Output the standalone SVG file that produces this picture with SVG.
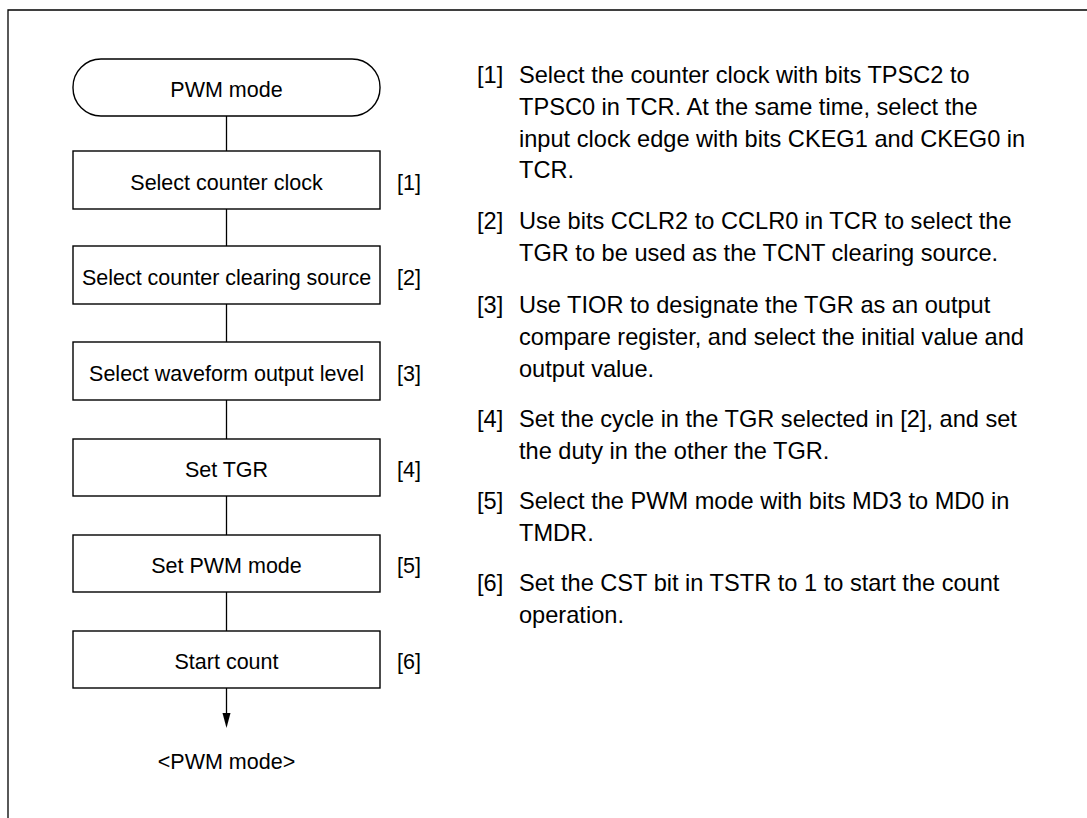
<svg xmlns="http://www.w3.org/2000/svg" width="1087" height="818" viewBox="0 0 1087 818">
<style>
.f{font-family:"Liberation Sans",Arial,sans-serif;fill:#000}
.b{font-size:21.5px;text-anchor:middle}
.l{font-size:21.5px}
.t{font-size:23.6px}
.s{fill:#fff;stroke:#000;stroke-width:1.4}
.c{stroke:#000;stroke-width:1.3;fill:none}
</style>
<rect width="1087" height="818" fill="#fff"/>
<path d="M8,818 V10 H1087" class="c"/>
<g id="connectors">
<line x1="226.5" y1="116" x2="226.5" y2="151" class="c"/>
<line x1="226.5" y1="209" x2="226.5" y2="246" class="c"/>
<line x1="226.5" y1="304" x2="226.5" y2="342" class="c"/>
<line x1="226.5" y1="400" x2="226.5" y2="439" class="c"/>
<line x1="226.5" y1="496" x2="226.5" y2="535" class="c"/>
<line x1="226.5" y1="592" x2="226.5" y2="631" class="c"/>
<line x1="226.5" y1="688" x2="226.5" y2="714" class="c"/>
<path d="M222.5,713 L230.5,713 L226.5,728 Z" fill="#000"/>
</g>
<g id="start"><rect x="73" y="59" width="307" height="57" rx="28" class="s"/><text x="226.5" y="97" class="f b">PWM mode</text></g>
<g id="n1"><rect x="73" y="151" width="307" height="58" class="s"/><text x="226.5" y="190" class="f b">Select counter clock</text><text x="397" y="190" class="f l">[1]</text></g>
<g id="n2"><rect x="73" y="246" width="307" height="58" class="s"/><text x="226.5" y="285" class="f b">Select counter clearing source</text><text x="397" y="285" class="f l">[2]</text></g>
<g id="n3"><rect x="73" y="342" width="307" height="58" class="s"/><text x="226.5" y="381" class="f b">Select waveform output level</text><text x="397" y="381" class="f l">[3]</text></g>
<g id="n4"><rect x="73" y="439" width="307" height="57" class="s"/><text x="226.5" y="477" class="f b">Set TGR</text><text x="397" y="477" class="f l">[4]</text></g>
<g id="n5"><rect x="73" y="535" width="307" height="57" class="s"/><text x="226.5" y="573" class="f b">Set PWM mode</text><text x="397" y="573" class="f l">[5]</text></g>
<g id="n6"><rect x="73" y="631" width="307" height="57" class="s"/><text x="226.5" y="669" class="f b">Start count</text><text x="397" y="669" class="f l">[6]</text></g>
<g id="end"><text x="226.5" y="769" class="f b">&lt;PWM mode&gt;</text></g>
<g id="notes" class="f t">
<text x="477" y="83">[1]</text>
<text x="519" y="83">Select the counter clock with bits TPSC2 to</text>
<text x="519" y="115">TPSC0 in TCR. At the same time, select the</text>
<text x="519" y="147">input clock edge with bits CKEG1 and CKEG0 in</text>
<text x="519" y="178">TCR.</text>
<text x="477" y="229">[2]</text>
<text x="519" y="229">Use bits CCLR2 to CCLR0 in TCR to select the</text>
<text x="519" y="261">TGR to be used as the TCNT clearing source.</text>
<text x="477" y="313">[3]</text>
<text x="519" y="313">Use TIOR to designate the TGR as an output</text>
<text x="519" y="345">compare register, and select the initial value and</text>
<text x="519" y="377">output value.</text>
<text x="477" y="427">[4]</text>
<text x="519" y="427">Set the cycle in the TGR selected in [2], and set</text>
<text x="519" y="459">the duty in the other the TGR.</text>
<text x="477" y="509">[5]</text>
<text x="519" y="509">Select the PWM mode with bits MD3 to MD0 in</text>
<text x="519" y="541">TMDR.</text>
<text x="477" y="591">[6]</text>
<text x="519" y="591">Set the CST bit in TSTR to 1 to start the count</text>
<text x="519" y="623">operation.</text>
</g>
</svg>
